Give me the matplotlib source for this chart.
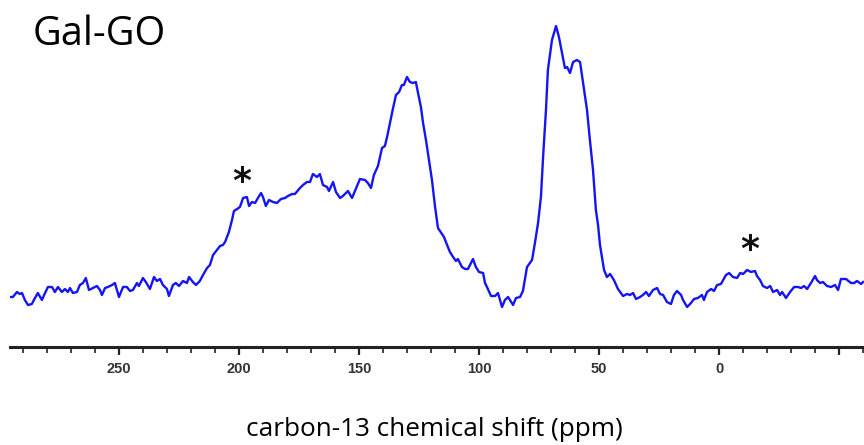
import matplotlib
matplotlib.use("Agg")
import matplotlib.pyplot as plt
from matplotlib.ticker import MultipleLocator, FuncFormatter

# chemical shift (ppm) and intensity (arbitrary units)
shift_ppm = [
    295.4, 294.2, 292.5, 291.3, 290.4, 289.2, 287.9, 286.3, 285.0, 283.8,
    282.1, 280.8, 279.6, 277.9, 276.7, 275.4, 273.8, 272.5, 271.3, 270.4,
    269.2, 267.5, 266.3, 265.0, 263.8, 262.5, 260.8, 259.2, 257.9, 257.1,
    255.8, 254.6, 252.9, 251.7, 250.0, 248.3, 246.7, 245.4, 244.2, 242.5,
    241.7, 240.0, 238.8, 237.1, 235.4, 234.2, 232.9, 231.7, 230.0, 229.2,
    227.5, 226.3, 225.0, 223.3, 221.7, 220.8, 219.2, 217.9, 216.3, 215.0,
    213.3, 212.1, 210.8, 209.2, 207.9, 206.7, 205.8, 205.0, 204.2, 202.9,
    202.1, 200.8, 199.6, 198.3, 196.7, 195.8, 194.6, 193.3, 192.1, 190.8,
    190.0, 188.8, 187.5, 185.8, 184.2, 182.5, 180.8, 179.6, 177.9, 176.7,
    174.6, 173.3, 171.7, 170.4, 169.2, 167.5, 166.3, 165.0, 163.3, 162.5,
    160.8, 159.6, 157.9, 156.7, 154.6, 152.9, 151.7, 149.6, 147.5, 146.3,
    145.0, 143.8, 142.1, 140.4, 139.2, 138.3, 137.1, 135.8, 134.6, 133.3,
    132.1, 131.3, 130.0, 128.8, 127.5, 126.3, 125.4, 124.2, 123.3, 122.1,
    121.3, 119.6, 118.3, 117.1, 115.4, 114.6, 113.3, 112.1, 110.8, 109.6,
    108.8, 107.1, 105.8, 104.6, 102.5, 101.3, 100.0, 98.3, 97.5, 96.3,
    95.0, 93.3, 92.1, 90.4, 89.2, 87.9, 85.8, 84.6, 82.9, 81.7,
    80.0, 77.9, 76.7, 75.4, 74.2, 73.3, 72.1, 71.3, 69.6, 67.9,
    66.7, 65.4, 64.2, 63.3, 62.1, 60.8, 59.2, 57.9, 56.7, 55.0,
    53.8, 52.5, 51.3, 50.4, 49.6, 48.8, 47.9, 46.7, 45.4, 43.8,
    42.1, 40.0, 38.3, 37.1, 35.8, 34.6, 32.9, 31.7, 30.4, 29.2,
    27.5, 25.8, 24.6, 23.3, 21.7, 20.0, 18.8, 17.5, 15.8, 15.0,
    13.3, 11.7, 10.4, 8.8, 7.1, 6.3, 5.0, 3.3, 2.1, 0.8,
    -0.8, -2.9, -4.2, -5.8, -7.5, -8.8, -10.0, -11.7, -13.3, -15.0,
    -15.8, -17.1, -18.3, -20.0, -21.3, -22.5, -24.2, -25.4, -26.3, -27.9,
    -29.6, -31.3, -32.9, -34.2, -35.4, -36.7, -38.3, -40.0, -40.8, -42.1,
    -43.3, -45.0, -46.7, -48.3, -49.6, -50.8, -52.9, -55.0, -56.3, -57.5,
    -59.2, -60.0,
]
intensity = [
    3, 3, 8, 6, 7, 0, -5, -4, 2, 7,
    0, 7, 13, 13, 8, 13, 8, 11, 8, 12,
    7, 8, 15, 17, 22, 10, 12, 14, 10, 5,
    12, 13, 15, 17, 3, 13, 13, 9, 10, 17,
    14, 22, 18, 11, 23, 19, 21, 15, 11, 4,
    15, 17, 14, 19, 17, 23, 18, 15, 19, 25,
    32, 35, 45, 50, 54, 55, 58, 63, 68, 80,
    89, 91, 93, 102, 103, 94, 98, 97, 102, 107,
    103, 94, 100, 98, 97, 101, 102, 104, 106, 106,
    112, 115, 118, 118, 126, 123, 126, 115, 113, 109,
    118, 108, 102, 104, 109, 102, 109, 121, 120, 117,
    112, 125, 134, 152, 154, 163, 177, 192, 205, 208,
    215, 215, 223, 218, 217, 218, 207, 193, 177, 160,
    147, 120, 93, 72, 66, 63, 55, 48, 43, 39,
    41, 33, 31, 31, 41, 33, 28, 27, 17, 11,
    4, 4, 7, -7, 0, 3, -5, 2, 3, 9,
    33, 40, 57, 77, 103, 143, 190, 230, 260, 274,
    263, 247, 232, 233, 227, 238, 240, 238, 218, 190,
    160, 130, 90, 75, 55, 43, 30, 23, 26, 20,
    11, 4, 6, 5, 7, 1, 3, 5, 8, 4,
    10, 12, 6, 5, -2, -4, 5, 9, 5, 0,
    -7, -3, 1, 2, 5, 0, 8, 11, 9, 15,
    16, 25, 27, 23, 22, 27, 26, 30, 28, 29,
    24, 20, 14, 12, 14, 8, 10, 5, 8, 2,
    8, 13, 13, 12, 14, 11, 17, 24, 20, 17,
    18, 14, 13, 15, 10, 21, 21, 17, 17, 19,
    16, 18,
]

# spinning sidebands marked with asterisks (ppm, intensity)
sideband_ppm = [198.8, -12.9]
sideband_int = [118, 50]

fig = plt.figure(figsize=(8.64, 4.45), dpi=100)
ax = fig.add_axes([10 / 864, 1 - 347 / 445, 854 / 864, 347 / 445])

ax.plot(shift_ppm, intensity, color="#1414f5", linewidth=1.7)
for x, y in zip(sideband_ppm, sideband_int):
    ax.text(x, y, "*", fontsize=26, ha="center", va="center", color="#111111",
            family="DejaVu Sans", fontweight="bold")

ax.set_xlim(295.4, -60.4)
ax.set_ylim(-47, 300)

for side in ["left", "right", "top"]:
    ax.spines[side].set_visible(False)
ax.spines["bottom"].set_linewidth(2.2)
ax.spines["bottom"].set_color("#222222")
ax.set_yticks([])

ax.xaxis.set_major_locator(MultipleLocator(50))
ax.xaxis.set_minor_locator(MultipleLocator(10))
ax.xaxis.set_major_formatter(FuncFormatter(lambda v, p: f"{v:.0f}" if v >= 0 else ""))
ax.tick_params(axis="x", which="major", length=6, width=1.6, color="#222222",
               labelsize=10.5, pad=5)
ax.tick_params(axis="x", which="minor", length=4, width=1.2, color="#222222")
for lab in ax.get_xticklabels():
    lab.set_fontfamily(["Liberation Sans Narrow", "Liberation Sans"])
    lab.set_fontweight("bold")
    lab.set_color("#333333")

fig.text(434 / 864, 1 - 430 / 445, "carbon-13 chemical shift (ppm)", ha="center",
         va="center", fontsize=18.8, family="Open Sans")
fig.text(33 / 864, 1 - 35 / 445, "Gal-GO", ha="left", va="center", fontsize=28.5,
         family="Open Sans")

fig.savefig("out.png", dpi=100)
